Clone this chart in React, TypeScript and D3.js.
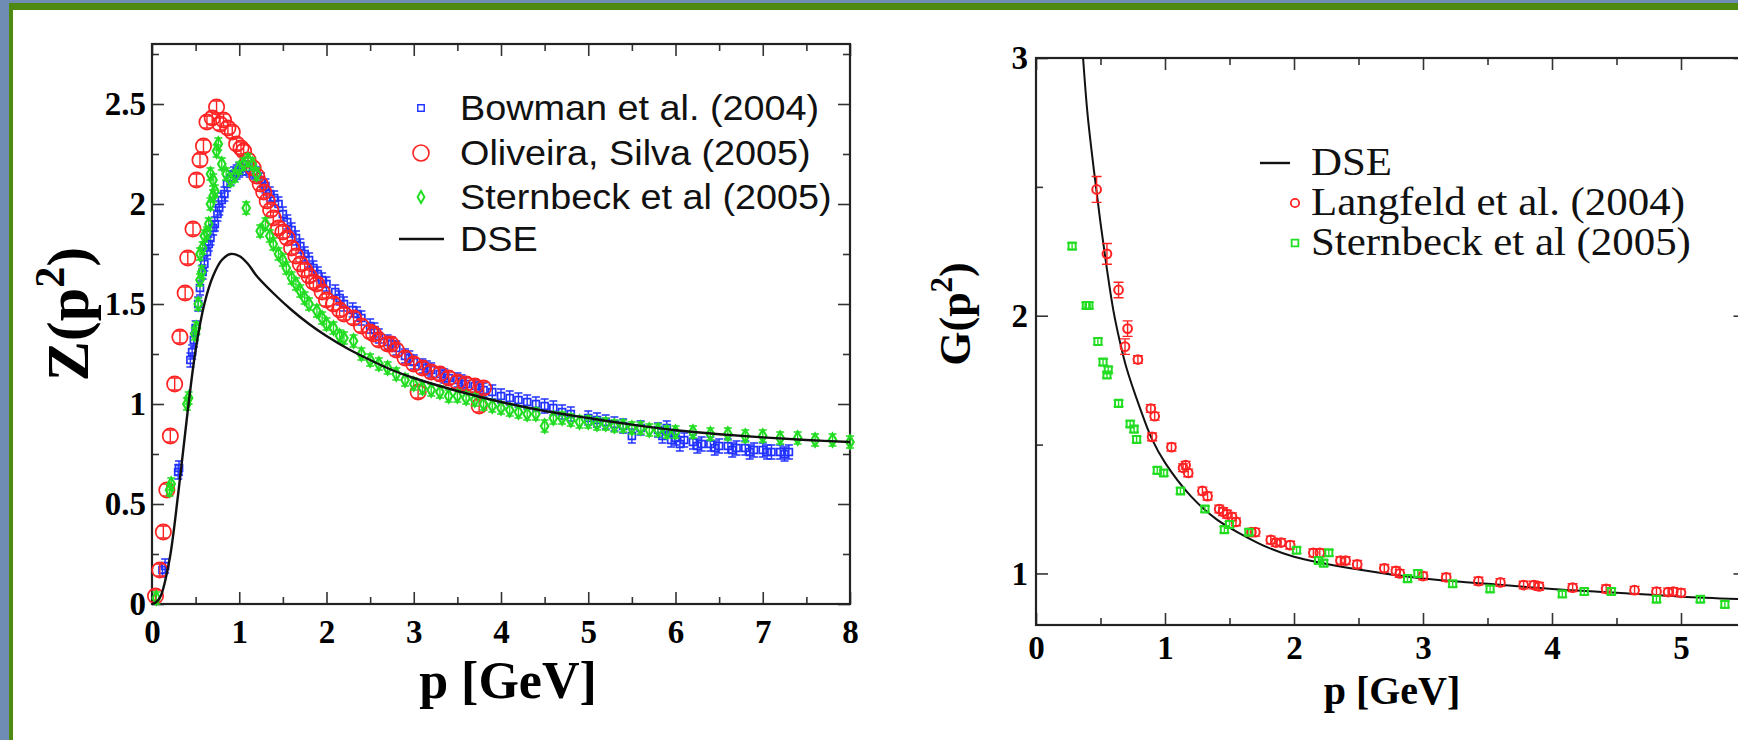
import React, { useEffect, useRef } from 'react';
import * as d3 from 'd3';

const W = 1738;
const H = 740;

// ---- left panel: Z(p^2) ----
const zXTicks = [0, 1, 2, 3, 4, 5, 6, 7, 8];
const zXMinor = [0.5, 1.5, 2.5, 3.5, 4.5, 5.5, 6.5, 7.5];
const zYTicks = [0, 0.5, 1, 1.5, 2, 2.5];
const zYLabels = ['0', '0.5', '1', '1.5', '2', '2.5'];
const zYMinor = [0.25, 0.75, 1.25, 1.75, 2.25, 2.75];

const dseZ = [
  [0, 0], [0.05, 0.01], [0.1, 0.04], [0.2, 0.22], [0.3, 0.55], [0.4, 0.93], [0.5, 1.27],
  [0.6, 1.5], [0.7, 1.64], [0.8, 1.72], [0.9, 1.75], [1.0, 1.74], [1.1, 1.7], [1.2, 1.64],
  [1.4, 1.55], [1.6, 1.47], [1.8, 1.4], [2.0, 1.34], [2.25, 1.275], [2.5, 1.22], [2.75, 1.17],
  [3, 1.13], [3.5, 1.065], [4, 1.01], [4.5, 0.965], [5, 0.93], [5.5, 0.897], [6, 0.869],
  [6.5, 0.849], [7, 0.833], [7.5, 0.82], [8, 0.81],
];

const bowman = [
  [0.12, 0.17], [0.15, 0.19], [0.3, 0.66], [0.31, 0.68], [0.44, 1.22], [0.46, 1.26], [0.48, 1.32],
  [0.5, 1.38], [0.53, 1.5], [0.55, 1.58], [0.58, 1.66], [0.6, 1.7], [0.63, 1.76], [0.65, 1.8],
  [0.67, 1.83], [0.7, 1.88], [0.72, 1.9], [0.75, 1.95], [0.77, 1.98], [0.8, 2.02], [0.83, 2.05],
  [0.86, 2.1], [0.9, 2.13], [0.94, 2.15], [0.97, 2.16], [1.0, 2.17], [1.04, 2.18], [1.08, 2.18],
  [1.12, 2.17], [1.16, 2.16], [1.2, 2.15], [1.25, 2.12], [1.3, 2.09], [1.35, 2.05], [1.4, 2.03],
  [1.45, 2.0], [1.5, 1.95], [1.55, 1.91], [1.6, 1.87], [1.65, 1.83], [1.7, 1.79], [1.75, 1.75],
  [1.8, 1.72], [1.85, 1.68], [1.9, 1.65], [1.95, 1.62], [2.0, 1.6], [2.1, 1.56], [2.15, 1.53],
  [2.2, 1.5], [2.3, 1.47], [2.35, 1.45], [2.4, 1.43], [2.5, 1.39], [2.55, 1.37], [2.6, 1.34],
  [2.7, 1.31], [2.75, 1.3], [2.8, 1.28], [2.9, 1.24], [2.95, 1.23], [3.0, 1.21], [3.1, 1.19],
  [3.15, 1.18], [3.2, 1.17], [3.3, 1.15], [3.35, 1.14], [3.4, 1.13], [3.5, 1.12], [3.55, 1.11],
  [3.6, 1.1], [3.7, 1.09], [3.75, 1.08], [3.8, 1.07], [3.9, 1.06], [4.0, 1.04], [4.1, 1.03],
  [4.2, 1.02], [4.3, 1.01], [4.4, 1.0], [4.5, 0.99], [4.6, 0.98], [4.7, 0.96], [4.8, 0.95],
  [5.0, 0.93], [5.1, 0.92], [5.2, 0.91], [5.3, 0.9], [5.4, 0.89], [5.5, 0.84], [5.6, 0.88],
  [5.8, 0.87], [5.85, 0.84], [5.9, 0.88], [5.95, 0.82], [6.0, 0.83], [6.05, 0.8], [6.1, 0.82],
  [6.2, 0.81], [6.25, 0.79], [6.3, 0.8], [6.4, 0.8], [6.45, 0.78], [6.5, 0.79], [6.6, 0.79],
  [6.65, 0.77], [6.7, 0.78], [6.8, 0.78], [6.85, 0.76], [6.9, 0.77], [7.0, 0.77], [7.05, 0.76],
  [7.1, 0.76], [7.2, 0.76], [7.25, 0.75], [7.3, 0.76],
];

const oliveira = [
  [0.04, 0.04], [0.09, 0.17], [0.13, 0.36], [0.17, 0.57], [0.21, 0.84], [0.26, 1.1], [0.32, 1.335],
  [0.38, 1.555], [0.41, 1.73], [0.47, 1.875], [0.51, 2.12], [0.55, 2.22], [0.59, 2.29], [0.63, 2.41],
  [0.69, 2.43], [0.74, 2.485], [0.78, 2.4], [0.82, 2.42], [0.87, 2.38], [0.92, 2.36], [0.97, 2.3],
  [1.02, 2.28], [1.05, 2.265], [1.1, 2.22], [1.16, 2.18], [1.2, 2.14], [1.24, 2.1], [1.28, 2.06],
  [1.32, 2.015], [1.36, 1.97], [1.39, 1.93], [1.45, 1.88], [1.5, 1.86], [1.55, 1.83], [1.6, 1.78],
  [1.65, 1.74], [1.7, 1.7], [1.75, 1.67], [1.8, 1.64], [1.85, 1.61], [1.89, 1.6], [1.95, 1.56],
  [2.0, 1.52], [2.08, 1.5], [2.15, 1.47], [2.2, 1.45], [2.31, 1.43], [2.4, 1.39], [2.5, 1.36],
  [2.54, 1.35], [2.6, 1.32], [2.7, 1.3], [2.74, 1.3], [2.8, 1.27], [2.9, 1.23], [3.0, 1.2],
  [3.05, 1.06], [3.1, 1.18], [3.2, 1.16], [3.3, 1.15], [3.4, 1.13], [3.5, 1.11], [3.6, 1.1],
  [3.7, 1.09], [3.75, 0.99], [3.8, 1.08],
];

const sternbeckZ = [
  [0.05, 0.03], [0.2, 0.57], [0.22, 0.6], [0.4, 1.0], [0.42, 1.03], [0.49, 1.35], [0.51, 1.38],
  [0.53, 1.5], [0.55, 1.62], [0.57, 1.66], [0.55, 1.75], [0.58, 1.78], [0.6, 1.84], [0.63, 1.855],
  [0.65, 1.9], [0.67, 2.0], [0.7, 2.04], [0.72, 2.065], [0.67, 2.15], [0.7, 2.12], [0.74, 2.265],
  [0.76, 2.3], [0.8, 2.2], [0.85, 2.15], [0.9, 2.12], [0.95, 2.14], [1.0, 2.18], [1.05, 2.2],
  [1.08, 1.98], [1.1, 2.22], [1.15, 2.2], [1.2, 2.15], [1.24, 1.865], [1.3, 1.9], [1.35, 1.84],
  [1.39, 1.8], [1.45, 1.75], [1.5, 1.72], [1.54, 1.68], [1.6, 1.63], [1.65, 1.6], [1.7, 1.565],
  [1.75, 1.53], [1.8, 1.5], [1.89, 1.465], [1.95, 1.43], [2.0, 1.4], [2.08, 1.38], [2.15, 1.34],
  [2.2, 1.33], [2.31, 1.315], [2.4, 1.25], [2.5, 1.22], [2.6, 1.2], [2.7, 1.18], [2.8, 1.15],
  [2.9, 1.12], [3.0, 1.1], [3.1, 1.08], [3.2, 1.07], [3.3, 1.06], [3.4, 1.04], [3.5, 1.04],
  [3.6, 1.03], [3.7, 1.02], [3.8, 1.0], [3.9, 0.99], [4.0, 0.98], [4.1, 0.97], [4.2, 0.96],
  [4.3, 0.95], [4.4, 0.95], [4.5, 0.89], [4.6, 0.93], [4.7, 0.93], [4.8, 0.92], [4.9, 0.91],
  [5.0, 0.91], [5.1, 0.9], [5.2, 0.9], [5.3, 0.89], [5.4, 0.89], [5.5, 0.88], [5.6, 0.88],
  [5.7, 0.87], [5.8, 0.87], [5.9, 0.86], [6.0, 0.86], [6.2, 0.86], [6.4, 0.85], [6.6, 0.85],
  [6.8, 0.84], [7.0, 0.84], [7.2, 0.83], [7.4, 0.83], [7.6, 0.82], [7.8, 0.82], [8.0, 0.81],
];

const bowmanErr = 0.035;
const oliveiraErr = 0.03;
const sternbeckZErr = 0.03;

// ---- right panel: G(p^2) ----
const gXTicks = [0, 1, 2, 3, 4, 5];
const gXMinor = [0.5, 1.5, 2.5, 3.5, 4.5, 5.5];
const gYTicks = [1, 2, 3];
const gYLabels = ['1', '2', '3'];
const gYMinor = [1.5, 2.5];

const dseG = [
  [0.365, 3.0], [0.4, 2.78], [0.45, 2.56], [0.5, 2.36], [0.55, 2.18], [0.6, 2.02], [0.65, 1.9],
  [0.7, 1.8], [0.8, 1.65], [0.9, 1.52], [1.0, 1.43], [1.2, 1.3], [1.4, 1.21], [1.6, 1.15],
  [1.8, 1.1], [2.0, 1.065], [2.5, 1.015], [3.0, 0.98], [3.5, 0.96], [4, 0.94], [4.5, 0.925],
  [5, 0.91], [5.5, 0.9],
];

const langfeld = [
  [0.47, 2.49, 0.05], [0.55, 2.24, 0.04], [0.64, 2.1, 0.03], [0.71, 1.95, 0.03], [0.69, 1.88, 0.03],
  [0.79, 1.83], [0.89, 1.64], [0.92, 1.61], [0.9, 1.53], [1.05, 1.49], [1.14, 1.41], [1.18, 1.39],
  [1.16, 1.42], [1.29, 1.32], [1.33, 1.3], [1.42, 1.25], [1.45, 1.24], [1.48, 1.23], [1.52, 1.22],
  [1.55, 1.2], [1.67, 1.16], [1.7, 1.16], [1.82, 1.13], [1.86, 1.12], [1.9, 1.12], [1.97, 1.11],
  [2.15, 1.08], [2.2, 1.08], [2.36, 1.05], [2.4, 1.05], [2.49, 1.035], [2.7, 1.02], [2.79, 1.01],
  [2.82, 1.0], [3.0, 0.99], [3.18, 0.985], [3.43, 0.97], [3.6, 0.965], [3.78, 0.955], [3.86, 0.955],
  [3.9, 0.95], [4.16, 0.945], [4.42, 0.94], [4.64, 0.935], [4.81, 0.93], [4.9, 0.928], [4.94, 0.93],
  [5.0, 0.925],
];

const sternbeckG = [
  [0.28, 2.27], [0.39, 2.04], [0.41, 2.04], [0.48, 1.9], [0.52, 1.82], [0.55, 1.77], [0.56, 1.79],
  [0.64, 1.66], [0.73, 1.58], [0.76, 1.56], [0.78, 1.52], [0.94, 1.4], [0.99, 1.39], [1.12, 1.32],
  [1.31, 1.25], [1.46, 1.17], [1.5, 1.19], [1.65, 1.16], [2.02, 1.09], [2.19, 1.05], [2.23, 1.04],
  [2.27, 1.08], [2.88, 0.98], [2.96, 1.0], [3.23, 0.96], [3.52, 0.94], [4.08, 0.92], [4.25, 0.93],
  [4.46, 0.93], [4.81, 0.9], [5.15, 0.9], [5.34, 0.88],
];

const langfeldErr = 0.015;
const sternbeckGErr = 0.012;

const BLUE = '#2233ff';
const RED = '#ff2222';
const GREEN = '#22dd22';
const SERIF = '"Liberation Serif", "Times New Roman", serif';
const SANS = '"Liberation Sans", Arial, sans-serif';

function errorBars(g, data, x, y, defErr, color, cap) {
  g.append('g')
    .selectAll('path')
    .data(data)
    .enter()
    .append('path')
    .attr('d', (d) => {
      const e = d[2] ?? defErr;
      const px = x(d[0]);
      const a = y(d[1] - e);
      const b = y(d[1] + e);
      return `M${px},${a}V${b}M${px - cap},${a}H${px + cap}M${px - cap},${b}H${px + cap}`;
    })
    .attr('stroke', color)
    .attr('stroke-width', 1.4)
    .attr('fill', 'none');
}

function markers(g, data, x, y, type, size, color, width) {
  const sym = d3.symbol().type(type).size(size);
  g.append('g')
    .selectAll('path')
    .data(data)
    .enter()
    .append('path')
    .attr('transform', (d) => `translate(${x(d[0])},${y(d[1])})`)
    .attr('d', sym)
    .attr('fill', 'none')
    .attr('stroke', color)
    .attr('stroke-width', width);
}

function frame(svg, x, y, o) {
  const [x0, x1] = x.range();
  const [y0, y1] = y.range();
  const g = svg.append('g');
  const style = (sel, fs) => {
    sel.select('.domain').remove();
    sel.selectAll('line').attr('stroke', '#333').attr('stroke-width', 1.6);
    sel
      .attr('font-family', SERIF)
      .attr('font-size', fs)
      .attr('font-weight', 'bold')
      .selectAll('text')
      .attr('fill', '#000');
  };
  // bottom
  g.append('g').attr('transform', `translate(0,${y0})`)
    .call(d3.axisBottom(x).tickValues(o.xTicks).tickFormat(d3.format('d')).tickSize(-12).tickSizeOuter(0).tickPadding(o.xPad))
    .call((s) => style(s, o.fs));
  g.append('g').attr('transform', `translate(0,${y0})`)
    .call(d3.axisBottom(x).tickValues(o.xMinor).tickFormat(() => '').tickSize(-7).tickSizeOuter(0))
    .call((s) => style(s, o.fs));
  // top
  g.append('g').attr('transform', `translate(0,${y1})`)
    .call(d3.axisTop(x).tickValues(o.xTicks).tickFormat(() => '').tickSize(-12).tickSizeOuter(0))
    .call((s) => style(s, o.fs));
  g.append('g').attr('transform', `translate(0,${y1})`)
    .call(d3.axisTop(x).tickValues(o.xMinor).tickFormat(() => '').tickSize(-7).tickSizeOuter(0))
    .call((s) => style(s, o.fs));
  // left
  g.append('g').attr('transform', `translate(${x0},0)`)
    .call(d3.axisLeft(y).tickValues(o.yTicks).tickFormat((d, i) => o.yLabels[i]).tickSize(-12).tickSizeOuter(0).tickPadding(o.yPad))
    .call((s) => style(s, o.fs));
  g.append('g').attr('transform', `translate(${x0},0)`)
    .call(d3.axisLeft(y).tickValues(o.yMinor).tickFormat(() => '').tickSize(-7).tickSizeOuter(0))
    .call((s) => style(s, o.fs));
  // right
  g.append('g').attr('transform', `translate(${x1},0)`)
    .call(d3.axisRight(y).tickValues(o.yTicks).tickFormat(() => '').tickSize(-12).tickSizeOuter(0))
    .call((s) => style(s, o.fs));
  g.append('g').attr('transform', `translate(${x1},0)`)
    .call(d3.axisRight(y).tickValues(o.yMinor).tickFormat(() => '').tickSize(-7).tickSizeOuter(0))
    .call((s) => style(s, o.fs));
  g.append('rect')
    .attr('x', x0).attr('y', y1)
    .attr('width', x1 - x0).attr('height', y0 - y1)
    .attr('fill', 'none').attr('stroke', '#222').attr('stroke-width', 2.2);
}

function drawLeft(svg) {
  const x = d3.scaleLinear().domain([0, 8]).range([152, 850]);
  const y = d3.scaleLinear().domain([0, 2.8]).range([604, 44]);

  frame(svg, x, y, {
    xTicks: zXTicks, xMinor: zXMinor, yTicks: zYTicks, yLabels: zYLabels, yMinor: zYMinor,
    fs: 33, xPad: 16, yPad: 6,
  });

  const g = svg.append('g');
  errorBars(g, bowman, x, y, bowmanErr, BLUE, 4);
  markers(g, bowman, x, y, d3.symbolSquare, 48, BLUE, 1.7);
  errorBars(g, oliveira, x, y, oliveiraErr, RED, 4);
  markers(g, oliveira, x, y, d3.symbolCircle, 185, RED, 1.7);
  errorBars(g, sternbeckZ, x, y, sternbeckZErr, GREEN, 4);
  markers(g, sternbeckZ, x, y, d3.symbolDiamond, 48, GREEN, 2.2);

  const line = d3.line().x((d) => x(d[0])).y((d) => y(d[1])).curve(d3.curveCatmullRom);
  g.append('path').attr('d', line(dseZ)).attr('fill', 'none').attr('stroke', '#111').attr('stroke-width', 2.4);

  // legend
  const lg = svg.append('g').attr('font-family', SANS).attr('font-size', 35).attr('fill', '#111');
  const rows = [
    { label: 'Bowman et al. (2004)', cy: 108 },
    { label: 'Oliveira, Silva (2005)', cy: 153 },
    { label: 'Sternbeck et al (2005)', cy: 197 },
    { label: 'DSE', cy: 239 },
  ];
  rows.forEach((r) =>
    lg.append('text').attr('transform', `translate(460,${r.cy + 12}) scale(1.08,1)`).text(r.label)
  );
  lg.append('path').attr('transform', 'translate(421,108)').attr('d', d3.symbol(d3.symbolSquare, 42)())
    .attr('fill', 'none').attr('stroke', BLUE).attr('stroke-width', 1.4);
  lg.append('path').attr('transform', 'translate(421,153)').attr('d', d3.symbol(d3.symbolCircle, 200)())
    .attr('fill', 'none').attr('stroke', RED).attr('stroke-width', 1.6);
  lg.append('path').attr('transform', 'translate(421,197)').attr('d', d3.symbol(d3.symbolDiamond, 40)())
    .attr('fill', 'none').attr('stroke', GREEN).attr('stroke-width', 2);
  lg.append('line').attr('x1', 399).attr('x2', 444).attr('y1', 239).attr('y2', 239)
    .attr('stroke', '#111').attr('stroke-width', 2.6);

  // axis titles
  svg.append('text')
    .attr('x', 508).attr('y', 698)
    .attr('text-anchor', 'middle')
    .attr('font-family', SERIF).attr('font-weight', 'bold').attr('font-size', 52)
    .text('p [GeV]');
  const zt = svg.append('text')
    .attr('transform', 'translate(88,314) rotate(-90)')
    .attr('text-anchor', 'middle')
    .attr('font-family', SERIF).attr('font-weight', 'bold').attr('font-size', 60);
  zt.append('tspan').text('Z(p');
  zt.append('tspan').attr('dy', -24).attr('font-size', 42).text('2');
  zt.append('tspan').attr('dy', 24).text(')');
}

function drawRight(svg) {
  const x = d3.scaleLinear().domain([0, 5.5]).range([1036, 1745.5]);
  const y = d3.scaleLinear().domain([0.8, 3]).range([625, 58]);

  frame(svg, x, y, {
    xTicks: gXTicks, xMinor: gXMinor, yTicks: gYTicks, yLabels: gYLabels, yMinor: gYMinor,
    fs: 33, xPad: 11, yPad: 8,
  });

  const g = svg.append('g');
  const line = d3.line().x((d) => x(d[0])).y((d) => y(d[1])).curve(d3.curveCatmullRom);
  g.append('path').attr('d', line(dseG)).attr('fill', 'none').attr('stroke', '#111').attr('stroke-width', 2);

  errorBars(g, langfeld, x, y, langfeldErr, RED, 5);
  markers(g, langfeld, x, y, d3.symbolCircle, 60, RED, 2);
  errorBars(g, sternbeckG, x, y, sternbeckGErr, GREEN, 5);
  markers(g, sternbeckG, x, y, d3.symbolSquare, 50, GREEN, 2);

  // legend
  const lg = svg.append('g').attr('font-family', SERIF).attr('font-size', 39).attr('fill', '#111');
  const rows = [
    { label: 'DSE', cy: 163 },
    { label: 'Langfeld et al. (2004)', cy: 203 },
    { label: 'Sternbeck et al (2005)', cy: 243 },
  ];
  rows.forEach((r) =>
    lg.append('text').attr('transform', `translate(1311,${r.cy + 12}) scale(1.1,1)`).text(r.label)
  );
  lg.append('line').attr('x1', 1260).attr('x2', 1290).attr('y1', 163).attr('y2', 163)
    .attr('stroke', '#111').attr('stroke-width', 2.4);
  lg.append('path').attr('transform', 'translate(1295,203)').attr('d', d3.symbol(d3.symbolCircle, 55)())
    .attr('fill', 'none').attr('stroke', RED).attr('stroke-width', 1.8);
  lg.append('path').attr('transform', 'translate(1295,243)').attr('d', d3.symbol(d3.symbolSquare, 45)())
    .attr('fill', 'none').attr('stroke', GREEN).attr('stroke-width', 1.8);

  svg.append('text')
    .attr('x', 1392).attr('y', 704)
    .attr('text-anchor', 'middle')
    .attr('font-family', SERIF).attr('font-weight', 'bold').attr('font-size', 40)
    .text('p [GeV]');
  const gt = svg.append('text')
    .attr('transform', 'translate(970,314) rotate(-90)')
    .attr('text-anchor', 'middle')
    .attr('font-family', SERIF).attr('font-weight', 'bold').attr('font-size', 44);
  gt.append('tspan').text('G(p');
  gt.append('tspan').attr('dy', -18).attr('font-size', 31).text('2');
  gt.append('tspan').attr('dy', 18).text(')');
}

export default function App() {
  const ref = useRef<SVGSVGElement>(null);

  useEffect(() => {
    const svg = d3.select(ref.current);
    svg.selectAll('*').remove();
    // slide background and frame
    svg.append('rect').attr('width', W).attr('height', H).attr('fill', '#6f8cb4');
    svg.append('rect').attr('x', 9).attr('y', 3).attr('width', W).attr('height', H).attr('fill', '#4e8a12');
    svg.append('rect').attr('x', 13).attr('y', 10).attr('width', W).attr('height', H).attr('fill', '#ffffff');
    drawLeft(svg);
    drawRight(svg);
  }, []);

  return (
    <svg
      ref={ref}
      width={W}
      height={H}
      style={{ position: 'absolute', left: 0, top: 0, display: 'block' }}
    />
  );
}
